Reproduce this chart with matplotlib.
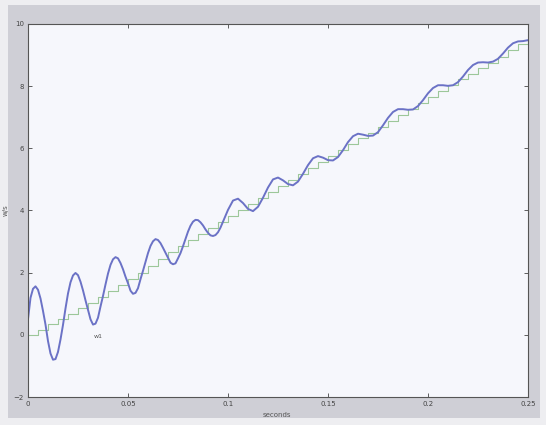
import numpy as np
import matplotlib
matplotlib.use("Agg")
import matplotlib.pyplot as plt
from matplotlib.patches import Rectangle

# response w1: every 1.25 ms up to 0.1 s, then every 2.5 ms
t_blue = np.concatenate([np.arange(81) * 0.00125, 0.1 + np.arange(1, 61) * 0.0025])
w_blue = [0.50, 1.19, 1.48, 1.56, 1.45, 1.17, 0.77, 0.33,
          -0.20, -0.60, -0.80, -0.78, -0.55, -0.15, 0.32, 0.85,
          1.33, 1.69, 1.91, 1.99, 1.92, 1.71, 1.43, 1.11,
          0.81, 0.50, 0.33, 0.36, 0.55, 0.91, 1.25, 1.62,
          1.97, 2.25, 2.43, 2.50, 2.46, 2.31, 2.11, 1.87,
          1.66, 1.42, 1.32, 1.35, 1.50, 1.79, 2.06, 2.35,
          2.63, 2.86, 3.01, 3.08, 3.05, 2.95, 2.80, 2.64,
          2.48, 2.32, 2.27, 2.30, 2.46, 2.63, 2.85, 3.09,
          3.32, 3.51, 3.64, 3.70, 3.69, 3.62, 3.52, 3.39,
          3.28, 3.20, 3.18, 3.21, 3.30, 3.45, 3.64, 3.83,
          4.02,
          4.32, 4.38, 4.24, 4.05, 3.98, 4.12, 4.41,
          4.74, 5.00, 5.06, 4.97, 4.85, 4.81, 4.93, 5.18,
          5.46, 5.68, 5.75, 5.70, 5.62, 5.61, 5.72, 5.94,
          6.20, 6.39, 6.47, 6.44, 6.40, 6.41, 6.52, 6.74,
          6.98, 7.17, 7.26, 7.26, 7.24, 7.25, 7.36, 7.55,
          7.77, 7.94, 8.03, 8.03, 8.01, 8.03, 8.13, 8.31,
          8.52, 8.68, 8.76, 8.77, 8.76, 8.79, 8.88, 9.05,
          9.24, 9.38, 9.44, 9.45, 9.48]

# stepped reference, one level every 5 ms
t_step = np.arange(51) * 0.005
w_step = [0.00, 0.15, 0.35, 0.52, 0.68, 0.85, 1.02, 1.22, 1.42, 1.60,
          1.80, 2.00, 2.22, 2.45, 2.65, 2.85, 3.05, 3.25, 3.43, 3.63,
          3.83, 4.02, 4.20, 4.40, 4.60, 4.80, 4.98, 5.18, 5.37, 5.56,
          5.76, 5.95, 6.14, 6.32, 6.50, 6.68, 6.87, 7.06, 7.25, 7.45,
          7.65, 7.85, 8.03, 8.22, 8.40, 8.58, 8.76, 8.95, 9.15, 9.35,
          9.50]

xticks = [0, 0.05, 0.1, 0.15, 0.2, 0.25]
xticklabels = ["0", "0.05", "0.1", "0.15", "0.2", "0.25"]
yticks = [-2, 0, 2, 4, 6, 8, 10]

fig = plt.figure(figsize=(5.46, 4.25), dpi=100, facecolor="#eeeef1")
# grey frame of the scanned figure window
bg = Rectangle((8 / 546, 1 - 418 / 425), 532 / 546, 413 / 425,
               transform=fig.transFigure, facecolor="#cfcfd6",
               edgecolor="none", zorder=-5)
fig.add_artist(bg)

ax = fig.add_axes([28 / 546, 28 / 425, 500 / 546, 373 / 425])
ax.set_zorder(1)
ax.set_facecolor("#f6f7fc")

ax.step(t_step, w_step, where="post", color="#9cc79a", linewidth=0.8)
ax.plot(t_blue, w_blue, color="#6b72c6", linewidth=1.4)

ax.text(0.033, -0.1, "w1", fontsize=4.5, color="#555555")

ax.set_xlim(0, 0.25)
ax.set_ylim(-2, 10)
ax.set_xticks(xticks)
ax.set_xticklabels(xticklabels)
ax.set_yticks(yticks)
ax.tick_params(direction="in", length=3, width=0.6, colors="#444444",
               labelsize=5, top=True, right=True, pad=3)
for s in ax.spines.values():
    s.set_color("#555555")
    s.set_linewidth(0.8)

ax.set_xlabel("seconds", fontsize=5, color="#555555")
ax.set_ylabel("w/s", fontsize=5, color="#555555")
ax.xaxis.set_label_coords(249 / 500, -15 / 373)
ax.yaxis.set_label_coords(-19 / 500, 0.5)

fig.savefig("out.png", dpi=100, facecolor=fig.get_facecolor())
